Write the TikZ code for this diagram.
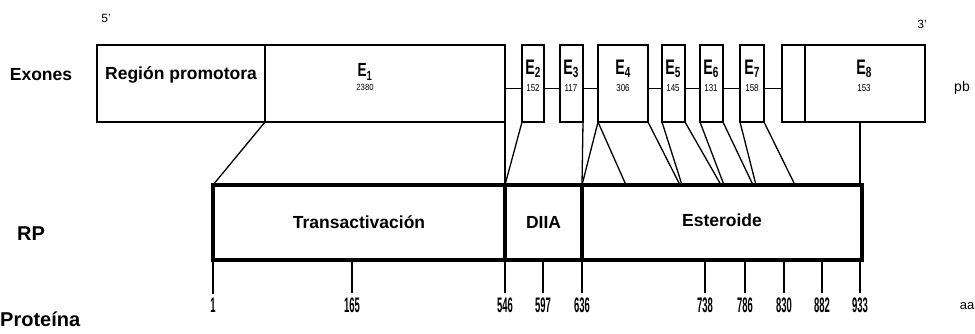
\documentclass[tikz,border=0pt]{standalone}
\usepackage{fontspec}
\setmainfont{Liberation Sans}
\usetikzlibrary{calc}
\begin{document}
\begin{tikzpicture}[x=1pt,y=-1pt,
  exon/.style={draw, line width=1.1pt, inner sep=0pt, outer sep=0pt, anchor=north west, minimum height=77pt},
  dom/.style={draw, line width=3.4pt, inner sep=0pt, outer sep=0pt, anchor=north west, minimum height=75pt},
  conn/.style={line width=1.3pt},
  intron/.style={line width=1.1pt},
  tick/.style={line width=1.4pt},
  rowlab/.style={font=\fontsize{17.5}{19}\selectfont\bfseries, inner sep=0pt},
  biglab/.style={font=\fontsize{20}{20}\selectfont\bfseries, inner sep=0pt},
  ticklab/.style={inner sep=0pt, font=\fontsize{21}{21}\selectfont\bfseries},
  elab/.style={inner sep=0pt, font=\fontsize{21}{21}\selectfont\bfseries},
  nlab/.style={inner sep=0pt, font=\fontsize{10}{10}\selectfont},
  unit/.style={inner sep=0pt, font=\fontsize{14}{14}\selectfont}
]
\useasboundingbox (0,0) rectangle (975,333);
% exon row
\node[exon, minimum width=168pt] (prom) at (97,45) {};
\node[exon, minimum width=240pt] (e1) at (265,45) {};
\node[exon, minimum width=22pt] (e2) at (522,45) {};
\node[exon, minimum width=23pt] (e3) at (560,45) {};
\node[exon, minimum width=50pt] (e4) at (598,45) {};
\node[exon, minimum width=23pt] (e5) at (662,45) {};
\node[exon, minimum width=23pt] (e6) at (700,45) {};
\node[exon, minimum width=24pt] (e7) at (740,45) {};
\node[exon, minimum width=23pt] (e8a) at (782,45) {};
\node[exon, minimum width=120pt] (e8) at (805,45) {};
% introns
\foreach \a/\b in {e1/e2,e2/e3,e3/e4,e4/e5,e5/e6,e6/e7,e7/e8a}
  \draw[intron] ($(\a.north east)!.56!(\a.south east)$) -- ($(\b.north west)!.56!(\b.south west)$);
% exon labels
\node[rowlab, anchor=center] (promlab) at (181,75) {Región promotora};
\node[elab, font=\fontsize{19}{19}\selectfont\bfseries] (l1) at (365,72) {\scalebox{0.72}[1]{E$_{\mathbf 1}$}};
\node[nlab, font=\fontsize{9}{9}\selectfont] (n1) at (365,87) {\scalebox{0.85}[1]{2380}};
\foreach \n/\x/\v in {2/533/152,3/571/117,4/623/306,5/673/145,6/711/131,7/752/158,8/864/153}{
  \node[elab] (l\n) at (\x,69) {\scalebox{0.68}[1]{E$_{\mathbf \n}$}};
  \node[nlab] (n\n) at (\x,88) {\scalebox{0.8}[1]{\v}};
}
% protein domains
\node[dom, minimum width=292pt] (trans) at (213,185) {};
\node[dom, minimum width=77pt] (diia) at (505,185) {};
\node[dom, minimum width=280pt] (ester) at (582,185) {};
\node[rowlab] (transl) at (trans.center) {Transactivación};
\node[rowlab] (diial) at (diia.center) {DIIA};
\node[rowlab] (esterl) at ([yshift=2pt]ester.center) {Esteroide};
% connector endpoints on protein top
\coordinate (c1) at (626,185);
\coordinate (c2a) at (680,185);
\coordinate (c2b) at (682,185);
\coordinate (c3a) at (721,185);
\coordinate (c3b) at (724,185);
\coordinate (c4a) at (753,185);
\coordinate (c4b) at (756,185);
\coordinate (c5) at (795,185);
\draw[conn] (prom.south east) -- (trans.north west);
\draw[conn] (e1.south east) -- (diia.north west);
\draw[conn] (e2.south west) -- (diia.north west);
\draw[conn] (e3.south east) -- (ester.north west);
\draw[conn] (e4.south west) -- (ester.north west);
\draw[conn] (e4.south west) -- (c1);
\draw[conn] (e4.south east) -- (c2a);
\draw[conn] (e5.south west) -- (c2b);
\draw[conn] (e5.south east) -- (c3a);
\draw[conn] (e6.south west) -- (c3b);
\draw[conn] (e6.south east) -- (c4a);
\draw[conn] (e7.south west) -- (c4b);
\draw[conn] (e7.south east) -- (c5);
\coordinate (e8d) at (860,185);
\draw[conn] (e8d) -- (e8d |- e8.south);
% ticks
\foreach \x/\n in {213/1,352/165,505/546,543/597,582/636,705/738,745/786,784/830,822/882,860/933}{
  \coordinate (t\n) at (\x,260);
  \node[ticklab] (tl\n) at (\x,305) {\scalebox{0.45}[1]{\n}};
  \draw[tick] (t\n) -- ([yshift=4pt]tl\n.north);
}
% row labels
\node[rowlab] (exones) at (41,75) {Exones};
\node[biglab, anchor=west] (rp) at (17,234) {RP};
\node[biglab, anchor=west] (prot) at (0,319) {Proteína};
\node[unit] (pb) at (962,88) {pb};
\node[unit, font=\fontsize{13}{13}\selectfont] (aa) at (967,306) {aa};
\node[unit, font=\fontsize{12}{12}\selectfont] (p5) at (106,18) {5'};
\node[unit, font=\fontsize{12}{12}\selectfont] (p3) at (922,24) {3'};
\end{tikzpicture}
\end{document}
